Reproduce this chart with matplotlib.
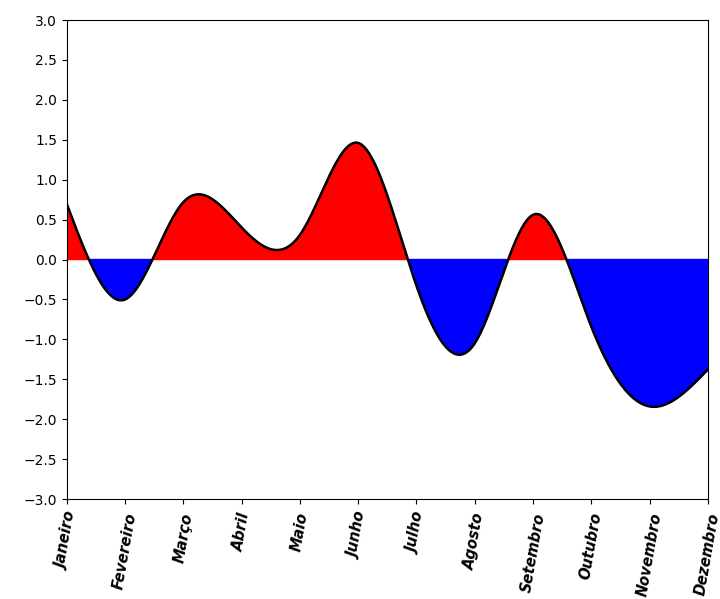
import numpy as np
import matplotlib
matplotlib.use("Agg")
import matplotlib.pyplot as plt

months = ["Janeiro", "Fevereiro", "Março", "Abril", "Maio", "Junho",
          "Julho", "Agosto", "Setembro", "Outubro", "Novembro", "Dezembro"]
values = [0.69, -0.50, 0.72, 0.40, 0.31, 1.46, -0.33, -1.05, 0.56, -0.84, -1.84, -1.38]
y_ticks = [-3.0, -2.5, -2.0, -1.5, -1.0, -0.5, 0.0, 0.5, 1.0, 1.5, 2.0, 2.5, 3.0]


def natural_spline(x, y, xs):
    x = np.asarray(x, float)
    y = np.asarray(y, float)
    n = len(x)
    h = np.diff(x)
    A = np.zeros((n, n))
    b = np.zeros(n)
    A[0, 0] = 1.0
    A[n - 1, n - 1] = 1.0
    for i in range(1, n - 1):
        A[i, i - 1] = h[i - 1]
        A[i, i] = 2 * (h[i - 1] + h[i])
        A[i, i + 1] = h[i]
        b[i] = 6 * ((y[i + 1] - y[i]) / h[i] - (y[i] - y[i - 1]) / h[i - 1])
    M = np.linalg.solve(A, b)
    idx = np.clip(np.searchsorted(x, xs) - 1, 0, n - 2)
    x0, x1 = x[idx], x[idx + 1]
    hh = x1 - x0
    return (M[idx] * (x1 - xs) ** 3 / (6 * hh) + M[idx + 1] * (xs - x0) ** 3 / (6 * hh)
            + (y[idx] / hh - M[idx] * hh / 6) * (x1 - xs)
            + (y[idx + 1] / hh - M[idx + 1] * hh / 6) * (xs - x0))


x = np.arange(len(months))
xs = np.linspace(x.min(), x.max(), 600)
ys = natural_spline(x, values, xs)

fig = plt.figure(figsize=(7.2, 5.99), dpi=100)
ax = fig.add_axes([0.093, 0.1669, 0.890, 0.7997])

ax.fill_between(xs, ys, 0, where=ys >= 0, color="red", interpolate=True)
ax.fill_between(xs, ys, 0, where=ys <= 0, color="blue", interpolate=True)
ax.plot(xs, ys, color="black", linewidth=1.8)

ax.set_xlim(x.min(), x.max())
ax.set_ylim(-3, 3)
ax.set_yticks(y_ticks)
ax.set_xticks(x)
ax.set_xticklabels(months, rotation=80, fontsize=10.5, fontweight="bold", fontstyle="italic")
ax.tick_params(axis="x", pad=5.5)

fig.savefig("out.png", dpi=100)
